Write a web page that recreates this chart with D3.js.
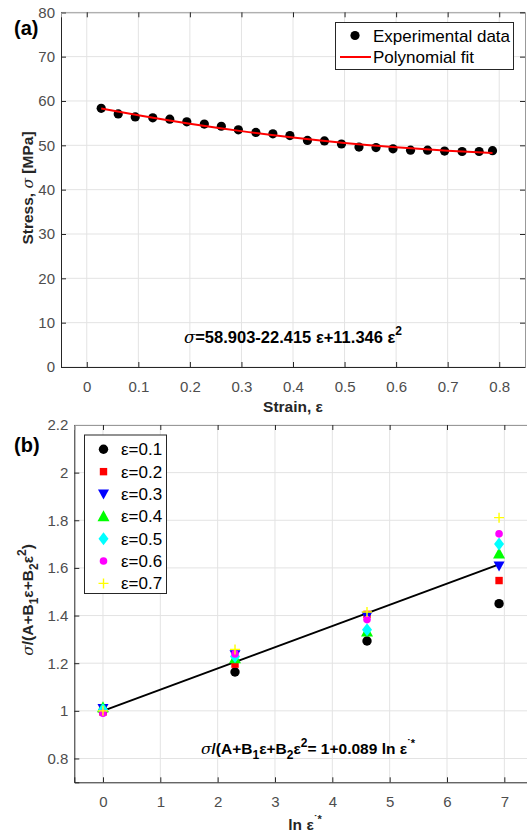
<!DOCTYPE html>
<html><head><meta charset="utf-8">
<script src="https://cdn.jsdelivr.net/npm/d3@7"></script>
<style>
html,body{margin:0;padding:0;background:#fff;}
svg{display:block;font-family:"Liberation Sans",Arial,sans-serif;}
</style></head>
<body>
<svg id="c" width="527" height="837"></svg>
<script>
// ---------- Panel (a) data ----------
const strain = [0.028,0.061,0.094,0.128,0.161,0.194,0.228,0.261,0.294,0.328,0.361,0.394,0.428,0.461,0.494,0.528,0.561,0.594,0.628,0.661,0.694,0.728,0.761,0.787];
const stress = [58.35,57.07,56.4,56.2,55.9,55.3,54.8,54.3,53.5,52.9,52.6,52.2,51.1,51.0,50.3,49.6,49.5,49.2,48.9,48.9,48.7,48.6,48.6,48.8];
const fitStrain = [0.028,0.1,0.2,0.3,0.4,0.5,0.6,0.7,0.787];
const fitStress = [58.28,56.78,54.87,53.20,51.75,50.53,49.54,48.77,48.29];
const xTicksA = [0,0.1,0.2,0.3,0.4,0.5,0.6,0.7,0.8];
const yTicksA = [0,10,20,30,40,50,60,70,80];

// ---------- Panel (b) data ----------
const lnRate = [0,2.303,4.605,6.908];
const seriesLabels = ["ε=0.1","ε=0.2","ε=0.3","ε=0.4","ε=0.5","ε=0.6","ε=0.7"];
const s01 = [1.0,1.163,1.293,1.45];
const s02 = [0.995,1.196,1.405,1.547];
const s03 = [1.01,1.235,1.397,1.608];
const s04 = [1.015,1.221,1.333,1.661];
const s05 = [1.005,1.228,1.34,1.70];
const s06 = [0.99,1.239,1.383,1.743];
const s07 = [1.0,1.258,1.415,1.811];
const fitLnX = [0,6.908];
const fitLnY = [1,1.615];
const xTicksB = [0,1,2,3,4,5,6,7];
const yTicksB = [0.8,1,1.2,1.4,1.6,1.8,2,2.2];

const svg = d3.select("#c");
const axisCol = "#262626", gridCol = "#e3e3e3", tickTextCol = "#4d4d4d";
const serif = 'font-family="DejaVu Serif" font-style="italic" font-weight="normal"';

function frame(g, x, y, xt, yt, fmtY){
  const [x0,x1] = x.range(), [y0,y1] = y.range();
  g.append("g").selectAll("line").data(xt).join("line")
    .attr("x1",d=>x(d)).attr("x2",d=>x(d)).attr("y1",y0).attr("y2",y1)
    .attr("stroke",gridCol).attr("stroke-width",1);
  g.append("g").selectAll("line").data(yt).join("line")
    .attr("x1",x0).attr("x2",x1).attr("y1",d=>y(d)).attr("y2",d=>y(d))
    .attr("stroke",gridCol).attr("stroke-width",1);
  const ax = g.append("g").attr("transform",`translate(0,${y0})`)
    .call(d3.axisBottom(x).tickValues(xt).tickSize(-5).tickPadding(14).tickFormat(d=>d3.format("")(d)));
  const ay = g.append("g").attr("transform",`translate(${x0},0)`)
    .call(d3.axisLeft(y).tickValues(yt).tickSize(-5).tickPadding(6).tickFormat(fmtY));
  const at = g.append("g").attr("transform",`translate(0,${y1})`)
    .call(d3.axisTop(x).tickValues(xt).tickSize(-5).tickFormat(""));
  const ar = g.append("g").attr("transform",`translate(${x1},0)`)
    .call(d3.axisRight(y).tickValues(yt).tickSize(-5).tickFormat(""));
  [ax,ay,at,ar].forEach(a=>{
    a.selectAll("path").attr("stroke",axisCol).attr("stroke-width",1);
    a.selectAll("line").attr("stroke",axisCol);
    a.selectAll("text").attr("fill",tickTextCol).style("font-size","15px")
      .style("font-family","'Liberation Sans',Arial,sans-serif");
  });
  at.select("path").attr("stroke","#999");
  ar.select("path").attr("stroke","#999");
}

// ===== Panel (a) =====
const xa = d3.scaleLinear().domain([-0.05,0.85]).range([61,525]);
const ya = d3.scaleLinear().domain([0,80]).range([367,12.3]);
const ga = svg.append("g");
frame(ga, xa, ya, xTicksA, yTicksA, d=>d3.format("")(d));

ga.append("g").selectAll("circle").data(strain).join("circle")
  .attr("cx",d=>xa(d)).attr("cy",(d,i)=>ya(stress[i])).attr("r",4.6).attr("fill","#000");
ga.append("path").datum(fitStrain)
  .attr("d", d3.line().x(d=>xa(d)).y((d,i)=>ya(fitStress[i])).curve(d3.curveMonotoneX))
  .attr("fill","none").attr("stroke","#ff0000").attr("stroke-width",2);

// legend (a)
const la = ga.append("g");
la.append("rect").attr("x",335.5).attr("y",22.5).attr("width",178).attr("height",47)
  .attr("fill","#fff").attr("stroke","#262626").attr("stroke-width",1);
la.append("circle").attr("cx",355).attr("cy",35.5).attr("r",4.6).attr("fill","#000");
la.append("line").attr("x1",340).attr("x2",371).attr("y1",57).attr("y2",57).attr("stroke","#ff0000").attr("stroke-width",2);
la.append("text").attr("x",373).attr("y",41.5).text("Experimental data").style("font-size","17px").attr("fill","#000");
la.append("text").attr("x",373).attr("y",63).text("Polynomial fit").style("font-size","17px").attr("fill","#000");

// labels (a)
svg.append("text").attr("x",14).attr("y",35).text("(a)").style("font-size","20px").style("font-weight","bold");
svg.append("text").attr("transform","translate(33,188) rotate(-90)").attr("text-anchor","middle")
  .style("font-size","15.5px").style("font-weight","bold").attr("fill","#262626")
  .html(`Stress, <tspan ${serif}>σ</tspan> [MPa]`);
svg.append("text").attr("x",293).attr("y",412).attr("text-anchor","middle")
  .style("font-size","15.5px").style("font-weight","bold").attr("fill","#262626").text("Strain, ε");
svg.append("text").attr("x",293).attr("y",343).attr("text-anchor","middle")
  .style("font-size","16.5px").style("font-weight","bold").attr("fill","#000")
  .html(`<tspan ${serif}>σ</tspan>=58.903-22.415 ε+11.346 ε<tspan dy="-8" font-size="12px">2</tspan>`);

// ===== Panel (b) =====
const xb = d3.scaleLinear().domain([-0.5,7.5]).range([74.3,533]);
const yb = d3.scaleLinear().domain([0.7,2.2]).range([782.3,425]);
const gb = svg.append("g");
frame(gb, xb, yb, xTicksB, yTicksB, d=>d3.format("")(+d.toFixed(1)));

gb.append("path").datum(fitLnX)
  .attr("d", d3.line().x(d=>xb(d)).y((d,i)=>yb(fitLnY[i])))
  .attr("fill","none").attr("stroke","#000").attr("stroke-width",2);

const allSeries = [s01,s02,s03,s04,s05,s06,s07];
const colors = ["#000000","#ff0000","#0000ff","#00ff00","#00ffff","#ff00ff","#ffff00"];
function marker(sel, k){
  const c = colors[k];
  if(k===0) sel.append("circle").attr("r",4.7).attr("fill",c);
  else if(k===1) sel.append("rect").attr("x",-3.7).attr("y",-3.7).attr("width",7.4).attr("height",7.4).attr("fill",c);
  else if(k===2) sel.append("path").attr("d","M-5.5,-4.5L5.5,-4.5L0,5.5Z").attr("fill",c);
  else if(k===3) sel.append("path").attr("d","M-6,5L6,5L0,-6Z").attr("fill",c);
  else if(k===4) sel.append("path").attr("d","M0,-6.5L5,0L0,6.5L-5,0Z").attr("fill",c);
  else if(k===5) sel.append("circle").attr("r",3.8).attr("fill",c);
  else sel.append("path").attr("d","M-5,0H5M0,-5V5").attr("stroke",c).attr("stroke-width",1.4).attr("fill","none");
}
allSeries.forEach((s,k)=>{
  gb.append("g").selectAll("g").data(lnRate).join("g")
    .attr("transform",(d,i)=>`translate(${xb(d)},${yb(s[i])})`)
    .each(function(){ marker(d3.select(this),k); });
});

// legend (b)
const lb = gb.append("g");
lb.append("rect").attr("x",84.5).attr("y",435).attr("width",82).attr("height",158.5)
  .attr("fill","#fff").attr("stroke","#262626").attr("stroke-width",1);
seriesLabels.forEach((t,k)=>{
  const yy = 449.3 + k*22.35;
  const m = lb.append("g").attr("transform",`translate(103.5,${yy})`);
  marker(m,k);
  lb.append("text").attr("x",121).attr("y",yy+6).text(t).style("font-size","17px").attr("fill","#000");
});

// labels (b)
svg.append("text").attr("x",14).attr("y",452).text("(b)").style("font-size","20px").style("font-weight","bold");
svg.append("text").attr("transform","translate(33,600) rotate(-90)").attr("text-anchor","middle")
  .style("font-size","15.5px").style("font-weight","bold").attr("fill","#262626")
  .html(`<tspan ${serif}>σ</tspan>/(A+B<tspan dy="5" font-size="12px">1</tspan><tspan dy="-5">ε+B</tspan><tspan dy="5" font-size="12px">2</tspan><tspan dy="-5">ε</tspan><tspan dy="-7" font-size="12px">2</tspan><tspan dy="7">)</tspan>`);
svg.append("text").attr("x",305).attr("y",830).attr("text-anchor","middle")
  .style("font-size","15.5px").style("font-weight","bold").attr("fill","#262626")
  .html('ln ε<tspan dy="-7" font-size="11px">˙*</tspan>');
svg.append("text").attr("x",308).attr("y",754).attr("text-anchor","middle")
  .style("font-size","15.5px").style("font-weight","bold").attr("fill","#000")
  .html(`<tspan ${serif}>σ</tspan>/(A+B<tspan dy="5" font-size="12px">1</tspan><tspan dy="-5">ε+B</tspan><tspan dy="5" font-size="12px">2</tspan><tspan dy="-5">ε</tspan><tspan dy="-7" font-size="12px">2</tspan><tspan dy="7">= 1+0.089 ln ε</tspan><tspan dy="-7" font-size="11px">˙*</tspan>`);
</script>
</body></html>
